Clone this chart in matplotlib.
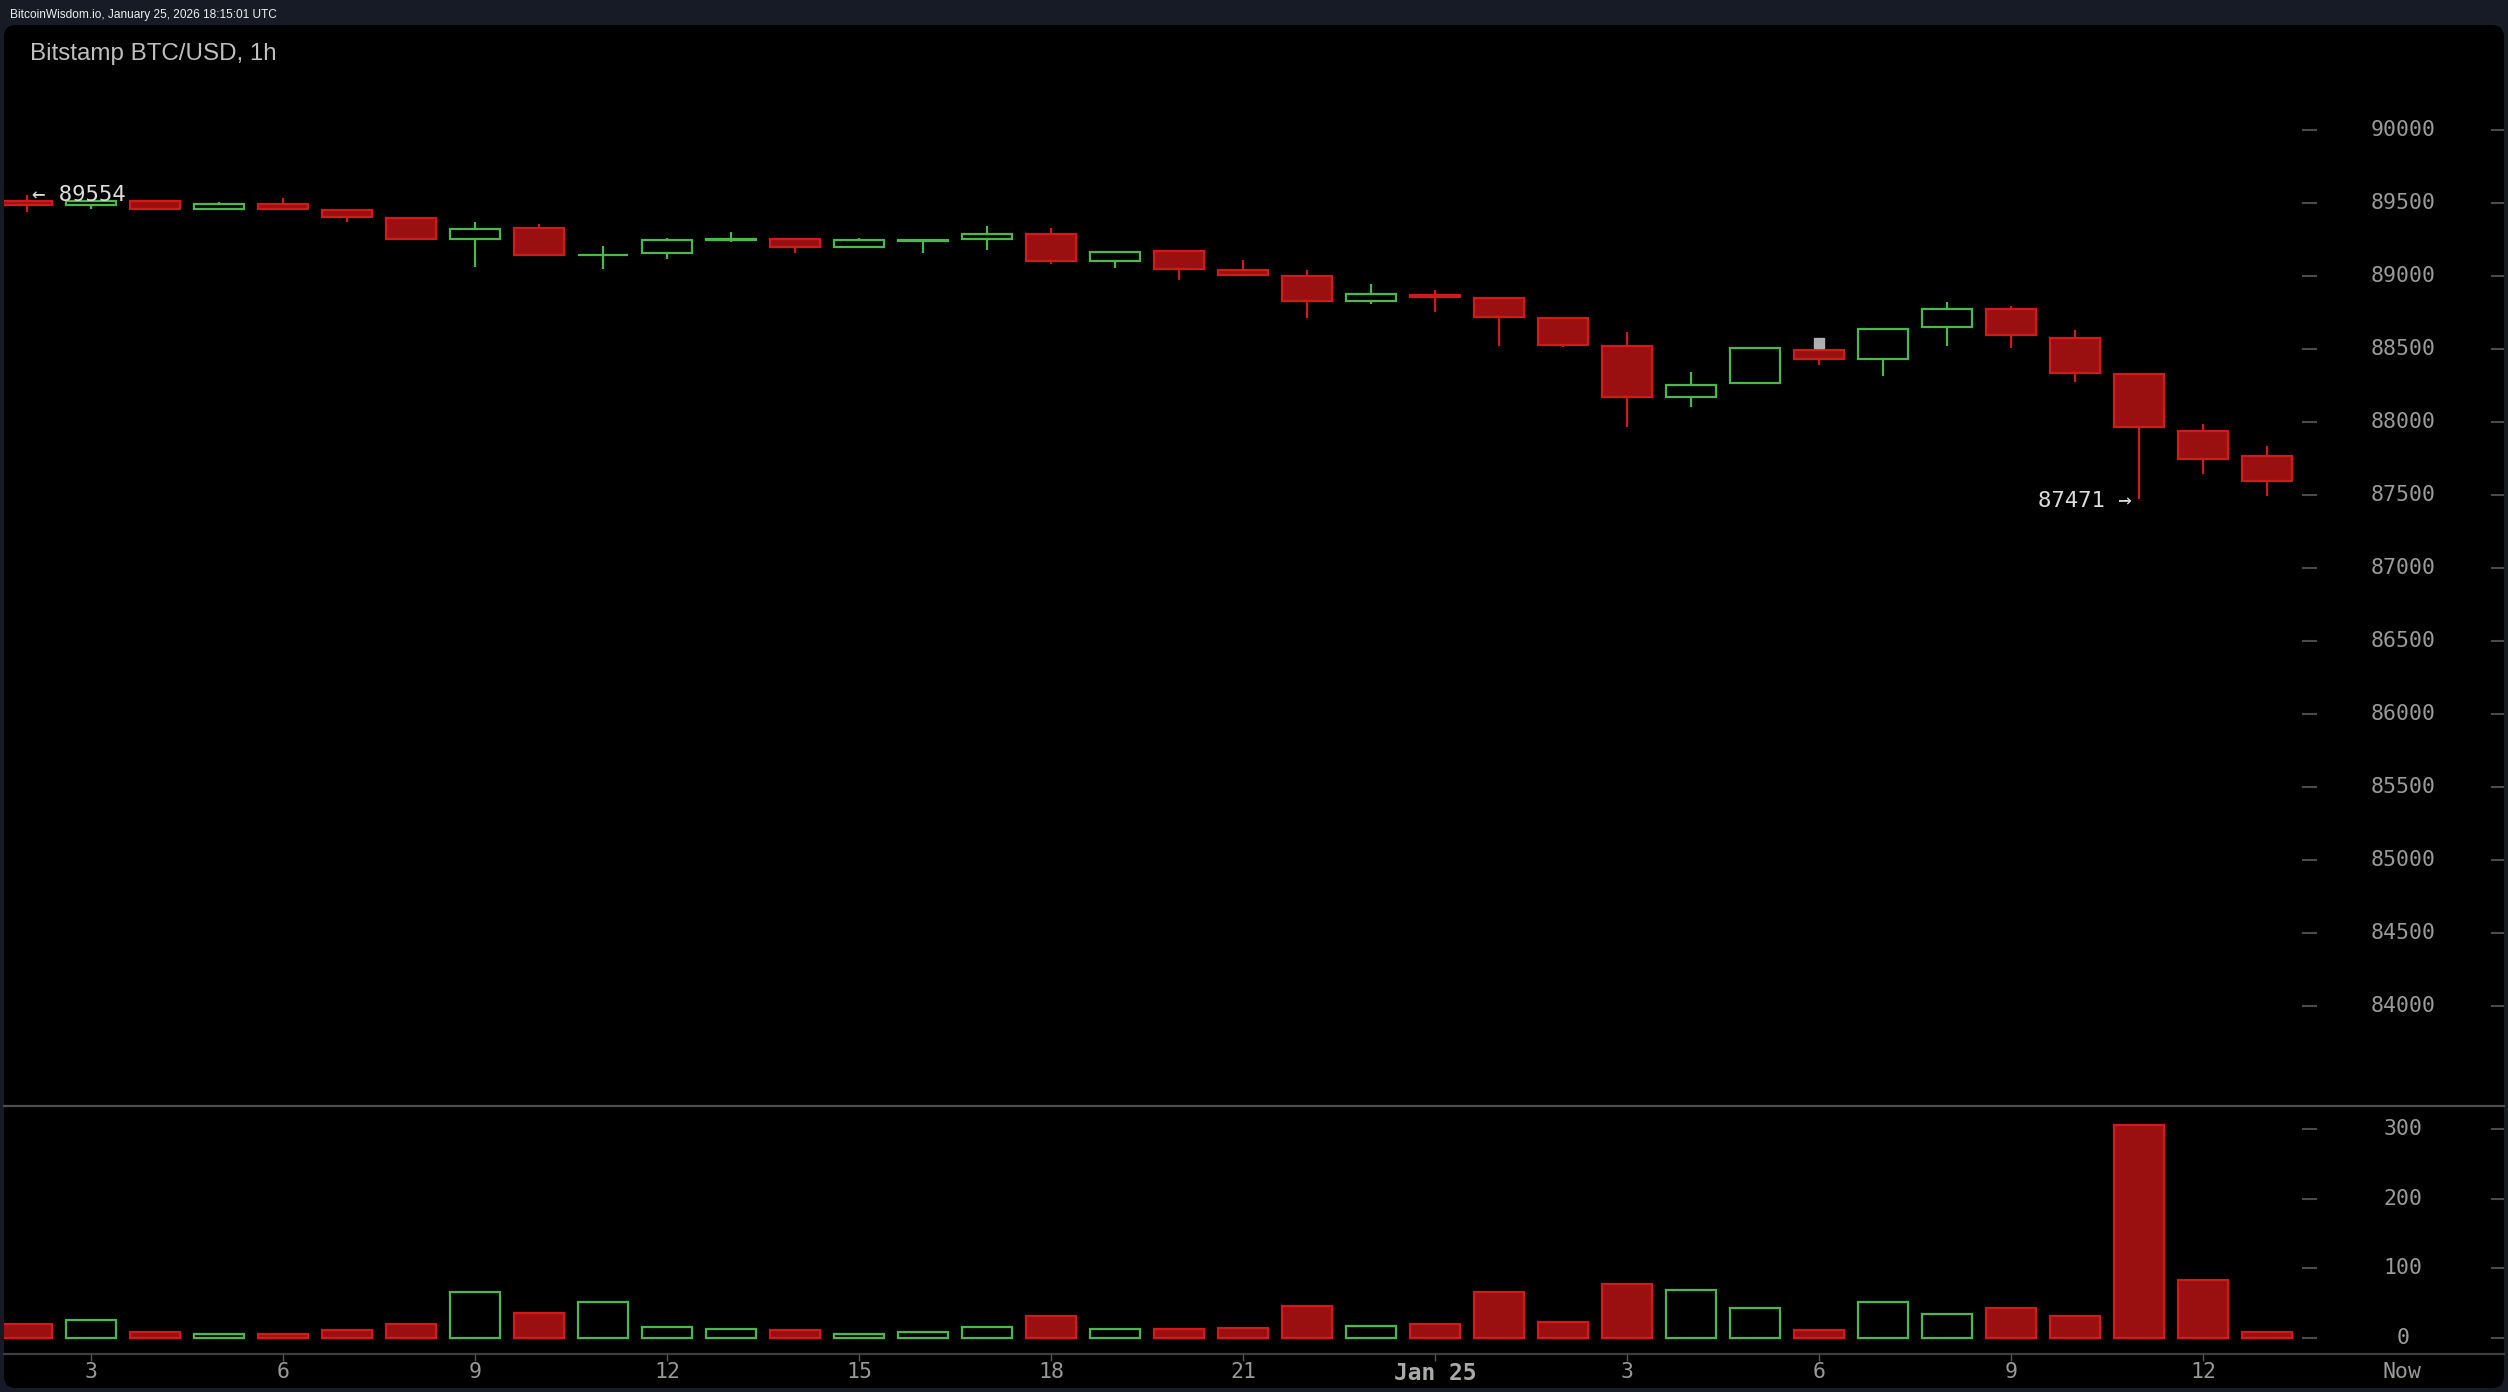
import numpy as np
import matplotlib
matplotlib.use("Agg")
import matplotlib.pyplot as plt
from matplotlib.patches import FancyBboxPatch
from matplotlib.transforms import IdentityTransform, blended_transform_factory

# hourly candles, index 0 = 02:00 Jan 24 ... 35 = 13:00 Jan 25
opens = [89516, 89484, 89516, 89457, 89491, 89450, 89395, 89251, 89329, 89142,
         89155, 89244, 89256, 89197, 89240, 89253, 89286, 89101, 89174, 89039,
         88998, 88827, 88870, 88847, 88710, 88518, 88169, 88267, 88491, 88429,
         88649, 88776, 88573, 88327, 87941, 87765]
highs = [89554, 89520, 89516, 89505, 89534, 89450, 89395, 89368, 89356, 89205,
         89258, 89299, 89256, 89258, 89244, 89342, 89329, 89162, 89174, 89110,
         89041, 88945, 88904, 88847, 88710, 88616, 88340, 88516, 88539, 88640,
         88820, 88795, 88628, 88327, 87986, 87838]
lows = [89438, 89457, 89457, 89457, 89457, 89372, 89251, 89060, 89142, 89046,
        89114, 89235, 89155, 89197, 89155, 89178, 89085, 89057, 88973, 89005,
        88714, 88810, 88756, 88523, 88512, 87964, 88101, 88267, 88388, 88317,
        88523, 88509, 88276, 87471, 87644, 87495]
closes = [89484, 89516, 89457, 89491, 89457, 89402, 89251, 89324, 89142, 89146,
          89244, 89253, 89197, 89244, 89244, 89286, 89101, 89162, 89046, 89005,
          88827, 88875, 88858, 88717, 88525, 88169, 88256, 88505, 88429, 88640,
          88776, 88594, 88336, 87964, 87747, 87594]
volumes = [19, 25, 7.6, 4.8, 4.8, 11, 19, 65, 36, 51, 16, 13, 11, 4.8, 7.6, 16,
           31, 13, 13, 14, 45, 17, 20, 66, 22, 77, 69, 43, 11.5, 52, 34, 43,
           31.5, 306, 83, 8.6]

tick_pos = [1, 4, 7, 10, 13, 16, 19, 22, 25, 28, 31, 34, 37.1]
tick_labels = ["3", "6", "9", "12", "15", "18", "21", "Jan 25", "3", "6", "9", "12", "Now"]
price_ticks = list(range(84000, 90001, 500))
vol_ticks = [0, 100, 200, 300]

GREEN = "#4cb84c"
RED_EDGE = "#d11a1a"
RED_FILL = "#9a1010"
BG = "#161b25"
MONO = "DejaVu Sans Mono"

W, H = 2508, 1392
fig = plt.figure(figsize=(W / 100, H / 100), dpi=100, facecolor=BG)

# black rounded panel, kept behind the axes
panel = FancyBboxPatch((4, 4), 2500, 1363, boxstyle="round,pad=0,rounding_size=12",
                       transform=IdentityTransform(), facecolor="black", edgecolor="none",
                       zorder=-5)
fig.patches.append(panel)

ax = fig.add_axes([4 / W, 286 / H, 2500 / W, 1081 / H])
axv = fig.add_axes([4 / W, 38 / H, 2500 / W, 248 / H])
for a in (ax, axv):
    a.set_facecolor("none")
    a.set_xlim(-0.359, 38.70)
    for s in a.spines.values():
        s.set_visible(False)

ax.set_ylim(83315, 90719)
axv.set_ylim(-23.4, 333)

o = np.array(opens); c = np.array(closes); h = np.array(highs); l = np.array(lows)
x = np.arange(len(o))
up = c >= o
body_lo = np.minimum(o, c)
body_h = np.abs(c - o)
bw = 0.79

# wicks then bodies
ax.vlines(x[up], l[up], h[up], color=GREEN, lw=1.6, zorder=2)
ax.vlines(x[~up], l[~up], h[~up], color=RED_EDGE, lw=1.6, zorder=2)
ax.bar(x[up], body_h[up], bw, bottom=body_lo[up], facecolor="black",
       edgecolor=GREEN, lw=1.6, zorder=3)
ax.bar(x[~up], np.maximum(body_h[~up], 8), bw, bottom=body_lo[~up], facecolor=RED_FILL,
       edgecolor=RED_EDGE, lw=1.6, zorder=3)

# price marks
ax.text(0.08, 89516, "\u2190 89554", family=MONO, size=16, color="#dcdcdc",
        ha="left", va="baseline", zorder=5)
ax.text(32.875, 87420, "87471 \u2192", family=MONO, size=16, color="#dcdcdc",
        ha="right", va="baseline", zorder=5)
ax.plot([28], [88541], marker="s", ms=7, color="#b0b0b0", zorder=5)

# volume bars
v = np.array(volumes)
axv.bar(x[up], v[up], bw, facecolor="black", edgecolor=GREEN, lw=1.6)
axv.bar(x[~up], v[~up], bw, facecolor=RED_FILL, edgecolor=RED_EDGE, lw=1.6)

# right-hand scales drawn inside the panel
for a, ticks in ((ax, price_ticks), (axv, vol_ticks)):
    tr = blended_transform_factory(a.transAxes, a.transData)
    a.set_yticks([])
    for t in ticks:
        a.text(0.9596, t, str(t), transform=tr, ha="center", va="center",
               family=MONO, size=15.5, color="#9a9a9a")
        a.plot([0.9196, 0.9248], [t, t], transform=tr, color="#4a4a4a", lw=1.5)
        a.plot([0.9952, 1.0], [t, t], transform=tr, color="#4a4a4a", lw=1.5)

ax.set_xticks([])
axv.spines["top"].set_visible(True)
axv.spines["top"].set_color("#4d4d4d")
axv.spines["top"].set_linewidth(1.6)
axv.spines["bottom"].set_visible(True)
axv.spines["bottom"].set_color("#3f3f3f")
axv.spines["bottom"].set_linewidth(1.6)
axv.set_xticks(tick_pos, tick_labels)
axv.tick_params(axis="x", length=5, width=1, color="#555555", pad=1,
                labelsize=15.5, labelcolor="#999999")
for lab in axv.get_xticklabels():
    lab.set_family(MONO)
    if lab.get_text() == "Jan 25":
        lab.set_fontweight("bold")
        lab.set_fontsize(16.5)
        lab.set_color("#aaaaaa")
axv.xaxis.get_major_ticks()[-1].tick1line.set_visible(False)

fig.text(10 / W, 1 - 18.3 / H, "BitcoinWisdom.io, January 25, 2026 18:15:01 UTC",
         family="Liberation Sans", size=8.6, color="#eeeeee", va="baseline")
fig.text(30 / W, 1 - 60 / H, "Bitstamp BTC/USD, 1h", family="Liberation Sans",
         size=17.4, color="#bfbfbf", va="baseline")

fig.savefig("out.png", dpi=100, facecolor=BG)
